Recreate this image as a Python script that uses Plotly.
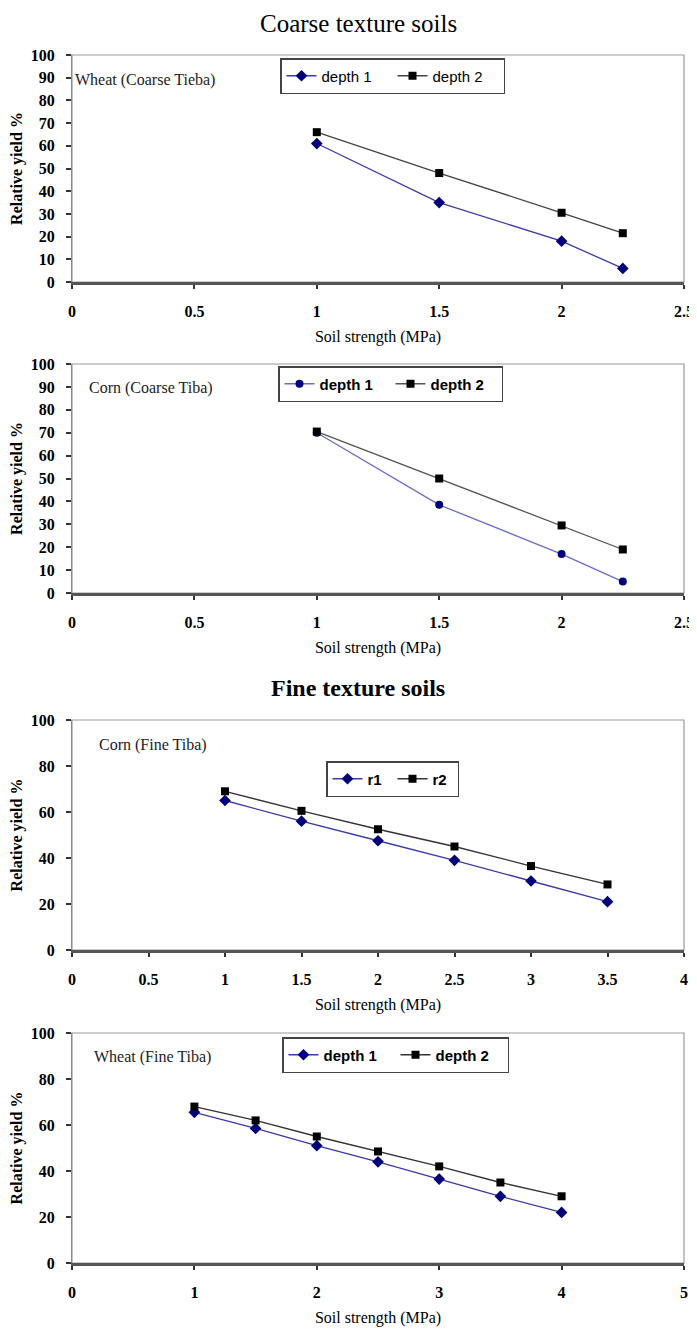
import plotly.graph_objects as go

# The page body adds an 8px margin, so the figure is drawn 8px in from the
# window's top-left corner; positions below are reference-screen pixels.
OFF = 8
W, H = 697 - OFF, 1331 - OFF

# ---------------- data ----------------
x_coarse = [1, 1.5, 2, 2.25]
wheat_coarse_d1 = [61, 35, 18, 6]
wheat_coarse_d2 = [66, 48, 30.5, 21.5]
corn_coarse_d1 = [70, 38.5, 17, 5]
corn_coarse_d2 = [70.5, 50, 29.5, 19]

x_corn_fine = [1, 1.5, 2, 2.5, 3, 3.5]
corn_fine_r1 = [65, 56, 47.5, 39, 30, 21]
corn_fine_r2 = [69, 60.5, 52.5, 45, 36.5, 28.5]

x_wheat_fine = [1, 1.5, 2, 2.5, 3, 3.5, 4]
wheat_fine_d1 = [65.5, 58.5, 51, 44, 36.5, 29, 22]
wheat_fine_d2 = [68, 62, 55, 48.5, 42, 35, 29]

panel_labels = ["Wheat (Coarse Tieba)", "Corn (Coarse Tiba)", "Corn (Fine Tiba)", "Wheat (Fine Tiba)"]
series_names = [("depth 1", "depth 2"), ("depth 1", "depth 2"), ("r1", "r2"), ("depth 1", "depth 2")]
x_ranges = [2.5, 2.5, 4, 5]
x_dticks = [0.5, 0.5, 0.5, 1]
y_dticks = [10, 10, 20, 20]

# ---------------- layout geometry (screen pixels) ----------------
px_left, px_right = 72, 684
panels_px = [(55, 282), (364, 593), (720, 950), (1033, 1263)]
legend_px = [(280, 58), (278, 366), (326, 761), (282, 1037)]
legend_entry = [66, 66, 20, 67]
label_px = [(73, 80), (87, 388), (97, 745), (92, 1057)]


def py(p):
    return 1 - (p - OFF) / H


def px(p):
    return (p - OFF) / W


SERIF = "Liberation Serif, Times New Roman, serif"
SANS = "Liberation Sans, Arial, sans-serif"

fig = go.Figure()

data = [
    (x_coarse, wheat_coarse_d1, wheat_coarse_d2),
    (x_coarse, corn_coarse_d1, corn_coarse_d2),
    (x_corn_fine, corn_fine_r1, corn_fine_r2),
    (x_wheat_fine, wheat_fine_d1, wheat_fine_d2),
]

d1_line = ["#3a3aa8", "#6c6cd0", "#3a3aa8", "#3a3aa8"]
d2_line = ["#444444", "#555555", "#333333", "#333333"]

layout = dict(
    width=W, height=H,
    margin=dict(l=0, r=0, t=0, b=0, autoexpand=False),
    paper_bgcolor="white", plot_bgcolor="white",
    showlegend=True,
)
annotations = []
shapes = []

for i, (xs, s1, s2) in enumerate(data):
    k = "" if i == 0 else str(i + 1)
    xa, ya = "x" + k, "y" + k
    lg = "legend" + k
    n1, n2 = series_names[i]
    fig.add_trace(go.Scatter(
        x=xs, y=s1, name=n1, mode="lines+markers", xaxis=xa, yaxis=ya, legend=lg,
        line=dict(color=d1_line[i], width=1.3),
        marker=dict(symbol="diamond" if i != 1 else "circle", size=9 if i != 1 else 8, color="#00007a"),
    ))
    fig.add_trace(go.Scatter(
        x=xs, y=s2, name=n2, mode="lines+markers", xaxis=xa, yaxis=ya, legend=lg,
        line=dict(color=d2_line[i], width=1.3),
        marker=dict(symbol="square", size=8, color="black"),
    ))
    top, bot = panels_px[i]
    tickfont = dict(family=SERIF, size=16, color="black", weight="bold")
    layout["xaxis" + k] = dict(
        domain=[px(px_left), px(px_right)], anchor=ya,
        range=[0, x_ranges[i]], dtick=x_dticks[i], tick0=0,
        showgrid=False, zeroline=False, showline=True, linecolor="#555555", linewidth=2.5,
        ticks="outside", ticklen=4, tickcolor="#333333", tickwidth=2,
        tickfont=tickfont, ticklabelstandoff=9,
        title=dict(text="Soil strength (MPa)", font=dict(family=SERIF, size=16, color="black"), standoff=12),
    )
    layout["yaxis" + k] = dict(
        domain=[py(bot), py(top)], anchor=xa,
        range=[0, 100], dtick=y_dticks[i], tick0=0,
        showgrid=False, zeroline=False, showline=True, linecolor="#8a8a8a", linewidth=1.2,
        ticks="outside", ticklen=5, tickcolor="#333333", tickwidth=2,
        tickfont=tickfont, ticklabelstandoff=8,
        title=dict(text="Relative yield %", font=dict(family=SERIF, size=16, color="black", weight="bold"), standoff=8),
    )
    # light frame around plot area
    shapes.append(dict(type="rect", xref=xa + " domain", yref=ya + " domain", x0=0, x1=1, y0=0, y1=1,
                       line=dict(color="#9a9a9a", width=1.2), layer="below"))
    lx, ly = legend_px[i]
    layout[lg] = dict(
        x=px(lx), y=py(ly), xanchor="left", yanchor="top", xref="paper", yref="paper",
        orientation="h", bordercolor="#444444", borderwidth=1.5, bgcolor="white",
        font=dict(family=SANS, size=15, color="black", weight="bold" if i > 0 else "normal"),
        entrywidth=legend_entry[i], entrywidthmode="pixels", tracegroupgap=0,
    )
    ax, ay = label_px[i]
    annotations.append(dict(
        text=panel_labels[i], x=px(ax), y=py(ay), xref="paper", yref="paper",
        xanchor="left", yanchor="middle", showarrow=False,
        font=dict(family=SERIF, size=16, color="#222222"),
    ))

annotations.append(dict(text="Coarse texture soils", x=px(358), y=py(24), xref="paper", yref="paper",
                        xanchor="center", yanchor="middle", showarrow=False,
                        font=dict(family=SERIF, size=25, color="black")))
annotations.append(dict(text="<b>Fine texture soils</b>", x=px(358), y=py(688), xref="paper", yref="paper",
                        xanchor="center", yanchor="middle", showarrow=False,
                        font=dict(family=SERIF, size=24, color="black")))

layout["annotations"] = annotations
layout["shapes"] = shapes
fig.update_layout(**layout)

fig.write_html("out.html")
